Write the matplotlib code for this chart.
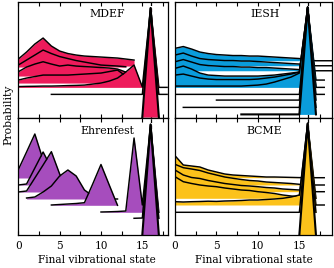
import matplotlib
matplotlib.use("Agg")
import matplotlib.pyplot as plt
from matplotlib.ticker import MultipleLocator
import numpy as np

# ---------------- data (probability heights above each ridge baseline) ----------------
panel_titles = ["MDEF", "IESH", "Ehrenfest", "BCME"]
panel_colors = ["#EE1B5B", "#0A9CDB", "#A64DBD", "#FCC21B"]
initial_state = 16
xtick_labels = ["0", "5", "10", "15"]

mdef_start = [0, 0, 0, 0, 0, 4, 15]
mdef_offset = [0.523, 0.513, 0.423, 0.353, 0.310, 0.240, 0.013]
mdef_prob = [
    [.07, .14, .22, .28, .20, .15, .125, .11, .10, .095, .09, .085, .08, .07, .06],
    [.02, .07, .12, .17, .135, .105, .085, .065, .05, .035, .02, .015, .01, .003],
    [.043, .09, .12, .143, .12, .10, .11, .10, .095, .09, .085, .08, .07, .04],
    [.03, .05, .065, .08, .08, .08, .08, .085, .09, .095, .10, .115, .13, .07],
    [.008, .01, .011, .013, .013, .015, .018, .02, .023, .033, .043, .063, .093, .153, .223, .005, .793, 0, 0],
    [0, 0, 0, 0, 0, 0, 0, 0, 0, 0, 0, 0, .863, 0, 0],
    [0, 1.09, 0],
]

iesh_start = [0, 0, 0, 0, 0, 0, 0, 5, 1, 8]
iesh_offset = [0.576, 0.526, 0.476, 0.383, 0.318, 0.310, 0.240, 0.183, 0.110, 0.040]
iesh_prob = [
    [.124, .142, .117, .087, .072, .062, .057, .052, .052, .047, .047, .042, .037, .032, .027, .022, .007, 0, 0, 0],
    [.107, .127, .097, .072, .062, .057, .052, .052, .047, .047, .042, .037, .032, .027, .022, .017, .007, 0, 0, 0],
    [.09, .112, .087, .062, .052, .047, .042, .042, .037, .037, .032, .032, .027, .022, .017, .012, .002, 0, 0, 0],
    [.117, .14, .11, .07, .05, .045, .04, .04, .04, .04, .04, .045, .05, .06, .07, .08, .727, 0, 0],
    [.115, .125, .105, .085, .075, .07, .07, .07, .07, .07, .075, .085, .095, .11, .125, .145, .792, 0],
    [.013, .013, .013, .013, .013, .013, .013, .013, .013, .018, .023, .033, .053, .078, .103, .143, .80, 0, 0],
    [0, 0, 0, 0, 0, 0, 0, 0, 0, 0, 0, 0, 0, 0, 0, 0, .87, 0, 0],
    [0, 0, 0, 0, 0, 0, 0, 0, 0, 0, 0, .927, 0],
    [0, 0, 0, 0, 0, 0, 0, 0, 0, 0, 0, 0, 0, 0, 0, 1.0, 0],
    [0, 0, 0, 0, 0, 0, 0, 0, 1.07, 0],
]

ehr_start = [0, 0, 0, 1, 4, 10, 14, 15]
ehr_offset = [0.57, 0.50, 0.43, 0.36, 0.297, 0.227, 0.167, 0.0]
ehr_prob = [
    [.083, .26, .44, .18, .03, 0],
    [0, .01, .17, .33, .17, .03, 0],
    [0, .01, .14, .27, .403, .18, .04, 0],
    [.01, .02, .07, .13, .23, .29, .23, .09, .03, .01, 0, 0],
    [.003, .008, .013, .018, .026, .213, .408, .203, 0],
    [.003, .005, .008, .013, .743, .073, .878, 0],
    [0, .003, .938, 0],
    [0, 1.105, 0],
]

bcme_start = [0, 0, 0, 0, 0, 0, 15]
bcme_offset = [0.573, 0.50, 0.433, 0.367, 0.30, 0.227, 0.0]
bcme_prob = [
    [.22, .127, .117, .107, .077, .057, .037, .027, .022, .017, .012, .007, .007, .005, .003, .001, 0, 0, 0],
    [.207, .173, .16, .145, .12, .10, .08, .067, .055, .045, .04, .03, .025, .02, .015, .007, 0, 0, 0],
    [.217, .167, .142, .132, .112, .097, .082, .072, .062, .057, .05, .042, .037, .027, .022, .017, 0, 0, 0],
    [.216, .166, .148, .133, .123, .116, .103, .093, .083, .078, .066, .058, .048, .033, .023, .016, .748, 0],
    [.033, .03, .033, .035, .038, .036, .04, .042, .045, .05, .05, .055, .06, .067, .08, .10, .815, 0, 0],
    [0, 0, 0, 0, 0, 0, 0, 0, 0, 0, 0, 0, 0, 0, 0, 0, .888, 0],
    [0, 1.115, 0],
]

panels = [
    (mdef_start, mdef_offset, mdef_prob),
    (iesh_start, iesh_offset, iesh_prob),
    (ehr_start, ehr_offset, ehr_prob),
    (bcme_start, bcme_offset, bcme_prob),
]

# ---------------- figure ----------------
plt.rcParams["font.family"] = ["DejaVu Serif"]
plt.rcParams["font.size"] = 7.6

W, H = 334, 268
fig = plt.figure(figsize=(W / 100, H / 100), dpi=100)

def px_axes(x0, x1, ytop, ybot):
    return fig.add_axes([x0 / W, 1 - ybot / H, (x1 - x0) / W, (ybot - ytop) / H])

boxes = [(18.3, 167.7, 1.7, 118.4), (175.0, 331.7, 1.7, 118.4),
         (18.3, 167.7, 118.4, 235.0), (175.0, 331.7, 118.4, 235.0)]
xmax = [18.07, 18.9, 18.07, 18.9]

for k, (box, (starts, offs, probs)) in enumerate(zip(boxes, panels)):
    ax = px_axes(*box)
    col = panel_colors[k]
    n = len(starts)
    for i, (s, off, p) in enumerate(zip(starts, offs, probs)):
        v = np.arange(s, s + len(p))
        y = off + np.asarray(p)
        ax.fill_between(v, off, y, color=col, lw=0, zorder=2 + 2 * i)
        ax.plot(v, y, color="k", lw=(1.5 if i == n - 1 else 1.05), zorder=3 + 2 * i)
    ax.axvline(initial_state, color="k", lw=0.9, ls=(0, (3, 2)), zorder=1)
    ax.set_xlim(0, xmax[k])
    ax.set_ylim(0, 1.166)
    ax.set_yticks([])
    ax.xaxis.set_major_locator(MultipleLocator(5))
    ax.xaxis.set_minor_locator(MultipleLocator(2.5))
    ax.tick_params(axis="x", which="both", direction="in", top=True, length=3, width=0.8, pad=4)
    for sp in ax.spines.values():
        sp.set_linewidth(0.9)
        sp.set_zorder(50)
    ax.text(10.8, 0.895, panel_titles[k], transform=ax.get_xaxis_transform(),
            ha="center", va="center", fontsize=7.8, zorder=60)
    if k >= 2:
        ax.set_xticks([0, 5, 10, 15])
        ax.set_xticklabels(xtick_labels)
        ax.set_xlabel("Final vibrational state", fontsize=7.6)
        ax.xaxis.set_label_coords(9.5 / xmax[k], -0.17)
    else:
        ax.tick_params(axis="x", which="both", labelbottom=False)

fig.text(8 / W, 1 - 115 / H, "Probability", rotation=90, ha="center", va="center", fontsize=7.8)

fig.savefig("out.png", dpi=100)
